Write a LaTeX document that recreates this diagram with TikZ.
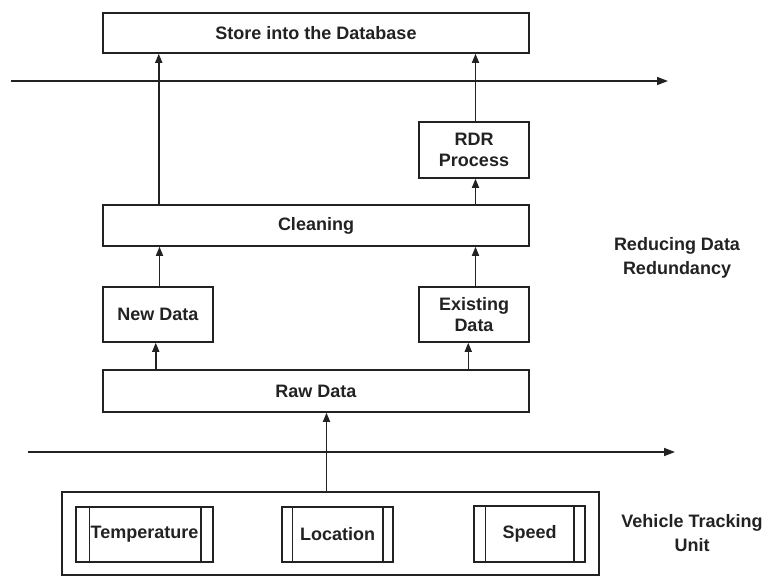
\documentclass[tikz,border=0pt]{standalone}
\usepackage{fontspec}
\setmainfont{Liberation Sans}
\usetikzlibrary{arrows.meta}
\definecolor{ink}{HTML}{222222}
\tikzset{
  box/.style={draw=ink, line width=1.5pt, rectangle, inner sep=0pt, align=center,
    text=ink, font=\bfseries\fontsize{18}{21.5}\selectfont},
  arr/.style={draw=ink, line width=1.5pt, -{Triangle[length=9pt,width=7pt]}},
  flow/.style={draw=ink, line width=1.5pt, -{Triangle[length=11pt,width=8pt]}},
  side/.style={align=center, text=ink, font=\bfseries\fontsize{18}{24}\selectfont},
  bar/.style={draw=ink, line width=1.5pt}
}
\begin{document}
\begin{tikzpicture}[x=1pt, y=-1pt]
\useasboundingbox (0,0) rectangle (767,576);

% processing stages
\node[box, minimum width=426pt, minimum height=40pt] (store) at (316,33) {Store into the Database};
\node[box, minimum width=110pt, minimum height=56pt] (rdr) at (474,150) {RDR\\Process};
\node[box, minimum width=426pt, minimum height=41pt] (clean) at (316,225.5) {Cleaning};
\node[box, minimum width=110pt, minimum height=55pt] (new) at (158,314.5) {New Data};
\node[box, minimum width=110pt, minimum height=55pt] (exist) at (474,314.5) {Existing\\Data};
\node[box, minimum width=426pt, minimum height=42pt] (raw) at (316,391) {Raw Data};

% vehicle tracking unit with its sensors
\node[box, minimum width=537pt, minimum height=83pt] (vtu) at (330.5,533.5) {};
\node[box, minimum width=137pt, minimum height=55pt] (temp) at (144.5,534.5) {Temperature};
\node[box, minimum width=111pt, minimum height=55pt] (loc) at (337.5,534.5) {Location};
\node[box, minimum width=111pt, minimum height=56pt] (speed) at (529.5,534) {Speed};
\draw[bar] ([xshift=14pt]temp.north west) -- ([xshift=14pt]temp.south west);
\draw[bar] ([xshift=-13pt]temp.north east) -- ([xshift=-13pt]temp.south east);
\draw[bar] ([xshift=11pt]loc.north west) -- ([xshift=11pt]loc.south west);
\draw[bar] ([xshift=-11pt]loc.north east) -- ([xshift=-11pt]loc.south east);
\draw[bar] ([xshift=12pt]speed.north west) -- ([xshift=12pt]speed.south west);
\draw[bar] ([xshift=-12pt]speed.north east) -- ([xshift=-12pt]speed.south east);

% layer boundaries
\coordinate (topL) at (11,81);
\coordinate (topR) at (668,81);
\coordinate (botL) at (28,452);
\coordinate (botR) at (675,452);
\draw[flow] (topL) -- (topR);
\draw[flow] (botL) -- (botR);

% layer labels
\node[side] (rdrlabel) at (677,258) {Reducing Data\\Redundancy};
\node[side] (vtulabel) at (692,533) {Vehicle Tracking\\Unit};

% data flow
\draw[arr] ([xshift=-4pt]vtu.north) -- ([xshift=-4pt]vtu.north |- raw.south);
\draw[arr] ([xshift=53.5pt]raw.north west) -- ([xshift=53.5pt]raw.north west |- new.south);
\draw[arr] ([xshift=-61.5pt]raw.north east) -- ([xshift=-61.5pt]raw.north east |- exist.south);
\draw[arr] ([xshift=1.5pt]new.north) -- ([xshift=1.5pt]new.north |- clean.south);
\draw[arr] ([xshift=1.5pt]exist.north) -- ([xshift=1.5pt]exist.north |- clean.south);
\draw[arr] ([xshift=1.5pt]rdr.south |- clean.north) -- ([xshift=1.5pt]rdr.south);
\draw[arr] ([xshift=56.5pt]clean.north west) -- ([xshift=56.5pt]clean.north west |- store.south);
\draw[arr] ([xshift=1.5pt]rdr.north) -- ([xshift=1.5pt]rdr.north |- store.south);
\end{tikzpicture}
\end{document}
